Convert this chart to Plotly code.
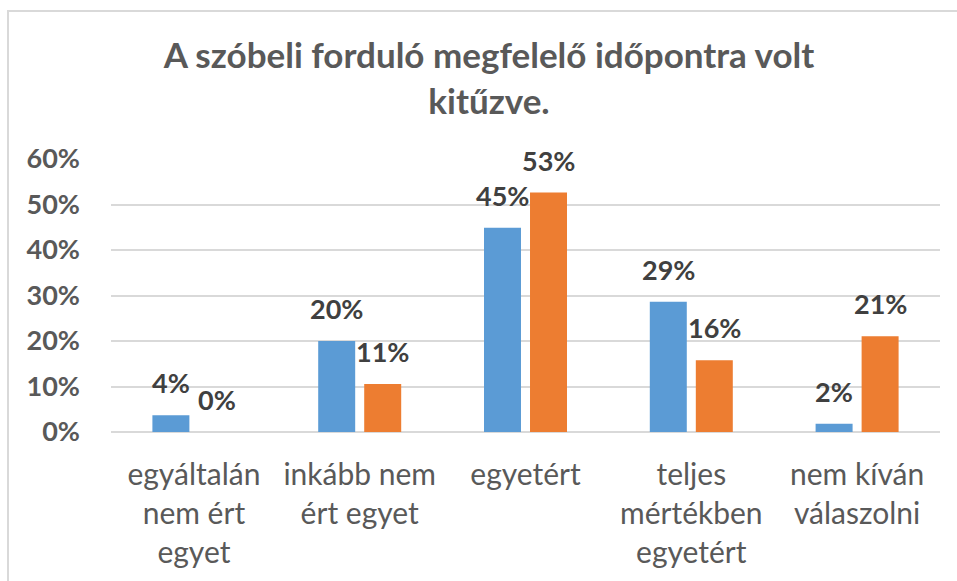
import plotly.graph_objects as go

categories = ["egyáltalán<br>nem ért<br>egyet", "inkább nem<br>ért egyet", "egyetért",
              "teljes<br>mértékben<br>egyetért", "nem kíván<br>válaszolni"]
series_a = [0.037, 0.200, 0.449, 0.286, 0.018]
series_b = [0.0, 0.1053, 0.5263, 0.1579, 0.2105]
tick_vals = [0, 0.1, 0.2, 0.3, 0.4, 0.5, 0.6]

W, H = 957, 581
L, R, T, B = 111, 17, 159, 149
FONT = "Lato"
BAR_OFFSET = 23  # px from category centre to each bar centre

fig = go.Figure()
series = [("A", series_a, "#5B9BD5", -BAR_OFFSET), ("B", series_b, "#ED7D31", BAR_OFFSET)]
for name, vals, col, shift in series:
    fig.add_trace(go.Bar(
        x=categories, y=vals, name=name, marker=dict(color=col, line=dict(width=0)),
        hoverinfo="skip",
    ))
    for c, v in zip(categories, vals):
        fig.add_annotation(x=c, y=v, xref="x", yref="y", text=f"{round(v * 100)}%",
                           showarrow=False, xanchor="center", yanchor="bottom",
                           xshift=shift, yshift=14,
                           font=dict(family=FONT, size=27, color="#404040", weight="bold"))

pw = W - L - R
ph = H - T - B
fig.add_shape(type="rect", xref="paper", yref="paper",
              x0=(8 - L) / pw, x1=(W + 10 - L) / pw,
              y0=-(H + 10 - T - ph) / ph, y1=(H - 11 - B) / ph,
              line=dict(color="#d9d9d9", width=2), layer="below")

fig.update_layout(
    width=W, height=H, margin=dict(l=L, r=R, t=T, b=B),
    paper_bgcolor="white", plot_bgcolor="white",
    showlegend=False, barmode="group", bargap=0.445, bargroupgap=0.196,
    title=dict(text="A szóbeli forduló megfelelő időpontra volt<br>kitűzve.",
               x=489 / W, xanchor="center", xref="container",
               y=1 - 68 / H, yanchor="middle", yref="container",
               font=dict(family=FONT, size=35, color="#595959", weight="bold")),
    yaxis=dict(range=[0, 0.6], tickvals=tick_vals, tickformat=".0%",
               showgrid=True, gridcolor="#d9d9d9", gridwidth=2,
               zeroline=True, zerolinecolor="#d9d9d9", zerolinewidth=2,
               showline=False, ticks="", ticklabelstandoff=30,
               tickfont=dict(family=FONT, size=27, color="#595959", weight="bold")),
    xaxis=dict(showline=False, ticks="", showgrid=False, ticklabelstandoff=22,
               tickfont=dict(family=FONT, size=30, color="#595959")),
)

fig.write_html("out.html")
